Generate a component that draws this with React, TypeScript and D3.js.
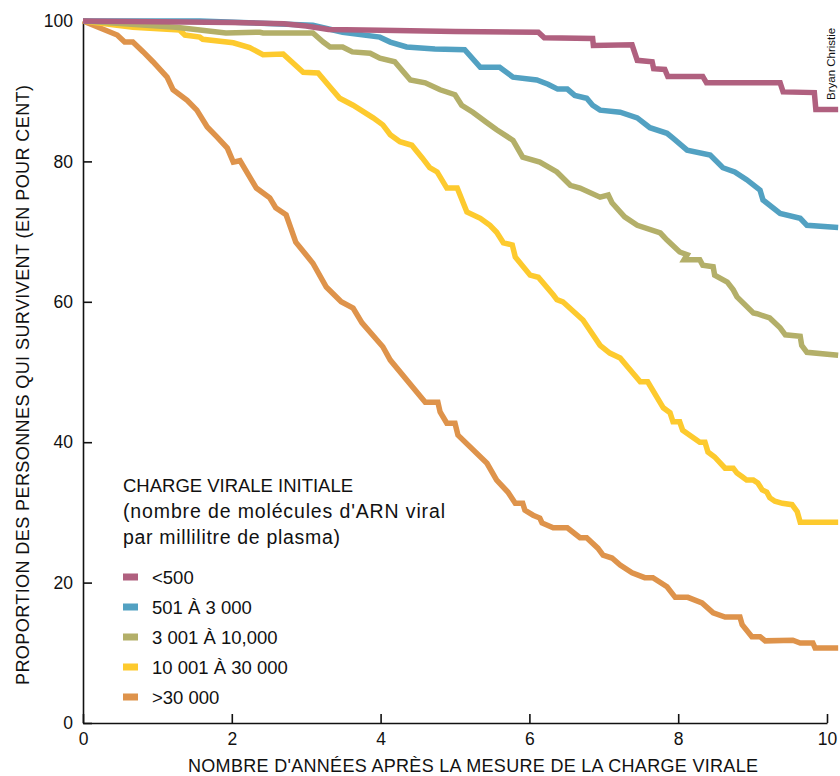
import { useEffect, useRef } from 'react';
import * as d3 from 'd3';

// survival curves by initial viral load (years, % surviving)
const seriesLabels = ['<500', '501 À 3 000', '3 001 À 10,000', '10 001 À 30 000', '>30 000'];
const seriesColors = ['#b0607f', '#52a1c2', '#b3af69', '#fdca2e', '#de934b'];

const xTicks = [0, 2, 4, 6, 8, 10];
const yTicks = [0, 20, 40, 60, 80, 100];

const under500: [number, number][] = [
  [0, 100], [1, 99.9], [2, 99.8], [2.7, 99.6], [3.0, 99.3], [3.3, 98.8], [4, 98.7], [5, 98.5],
  [6.12, 98.4], [6.2, 97.6], [6.85, 97.5], [6.86, 96.5], [7.38, 96.6], [7.45, 94.4], [7.65, 94.2],
  [7.67, 93.2], [7.82, 93.1], [7.86, 92.1], [8.33, 92.1], [8.38, 91.2], [9.37, 91.2], [9.41, 89.9],
  [9.83, 89.8], [9.85, 87.4], [10.15, 87.4],
];

const load501to3000: [number, number][] = [
  [0, 100], [1.57, 100], [3.09, 99.4], [3.49, 98.4], [3.99, 97.7], [4.13, 97.0], [4.35, 96.3],
  [4.73, 96.0], [5.13, 95.9], [5.34, 93.4], [5.6, 93.4], [5.78, 92.0], [6.1, 91.6], [6.25, 91.0],
  [6.38, 90.3], [6.51, 90.3], [6.61, 89.4], [6.77, 89.0], [6.85, 88.0], [6.95, 87.3], [7.22, 87.0],
  [7.45, 86.2], [7.62, 84.8], [7.85, 84.0], [7.93, 83.3], [8.12, 81.6], [8.43, 80.9], [8.6, 79.1],
  [8.76, 78.5], [8.92, 77.4], [9.1, 75.9], [9.14, 74.5], [9.37, 72.6], [9.64, 71.9], [9.73, 70.9],
  [10.15, 70.6],
];

const load3001to10000: [number, number][] = [
  [0, 100], [1.25, 99.1], [1.92, 98.3], [2.38, 98.4], [2.42, 98.3], [3.09, 98.3], [3.23, 97.0],
  [3.32, 96.3], [3.49, 96.3], [3.62, 95.6], [3.86, 95.4], [3.99, 94.7], [4.19, 94.2], [4.4, 91.6],
  [4.6, 91.2], [4.8, 90.2], [5.0, 89.5], [5.09, 88.0], [5.24, 87.0], [5.43, 85.5], [5.56, 84.5],
  [5.78, 83.0], [5.91, 80.6], [6.14, 79.9], [6.37, 78.5], [6.55, 76.6], [6.68, 76.2], [6.95, 74.9],
  [7.06, 75.2], [7.11, 74.1], [7.28, 72.1], [7.45, 70.9], [7.76, 69.8], [7.85, 68.8], [8.02, 67.1],
  [8.12, 66.7], [8.08, 66.0], [8.29, 66.0], [8.33, 65.2], [8.47, 65.0], [8.49, 63.8], [8.66, 62.8],
  [8.74, 61.7], [8.79, 60.7], [9.01, 58.4], [9.06, 58.3], [9.23, 57.7], [9.37, 56.3], [9.44, 55.3],
  [9.64, 55.1], [9.66, 53.8], [9.73, 52.8], [10.15, 52.4],
];

const load10001to30000: [number, number][] = [
  [0, 100], [0.67, 99.1], [1.3, 98.7], [1.37, 98.0], [1.57, 97.7], [1.61, 97.4], [2.02, 96.9],
  [2.24, 96.2], [2.42, 95.2], [2.69, 95.3], [2.96, 92.7], [3.16, 92.6], [3.32, 90.6], [3.45, 89.0],
  [3.63, 88.0], [3.9, 86.2], [4.03, 85.2], [4.13, 83.8], [4.26, 82.8], [4.42, 82.3], [4.56, 80.5],
  [4.66, 79.1], [4.76, 78.5], [4.89, 76.2], [5.03, 76.2], [5.16, 72.8], [5.34, 71.9], [5.47, 70.9],
  [5.56, 69.9], [5.65, 68.4], [5.77, 68.1], [5.81, 66.4], [6.01, 63.8], [6.12, 63.5], [6.32, 61.0],
  [6.37, 60.3], [6.45, 60.0], [6.72, 57.4], [6.95, 53.8], [7.08, 52.7], [7.22, 52.0], [7.33, 50.6],
  [7.49, 48.6], [7.59, 48.6], [7.8, 44.9], [7.89, 44.2], [7.93, 42.9], [8.02, 42.9], [8.06, 41.7],
  [8.29, 40.0], [8.36, 40.0], [8.4, 38.6], [8.49, 37.9], [8.63, 36.3], [8.74, 36.3], [8.79, 35.6],
  [8.87, 35.0], [8.92, 34.6], [9.01, 34.6], [9.07, 34.2], [9.13, 33.2], [9.19, 32.9], [9.23, 32.1],
  [9.3, 31.6], [9.4, 31.3], [9.53, 31.1], [9.6, 30.1], [9.64, 28.6], [10.15, 28.6],
];

const over30000: [number, number][] = [
  [0, 100], [0.23, 99.0], [0.46, 98.0], [0.56, 97.0], [0.67, 97.0], [0.81, 95.6], [0.94, 94.2],
  [1.13, 92.0], [1.21, 90.2], [1.4, 88.7], [1.53, 87.3], [1.67, 84.9], [1.8, 83.5], [1.94, 81.9],
  [2.02, 79.9], [2.11, 80.1], [2.33, 76.2], [2.51, 74.8], [2.59, 73.4], [2.73, 72.4], [2.86, 68.5],
  [3.09, 65.5], [3.27, 62.1], [3.47, 60.0], [3.63, 59.1], [3.75, 57.0], [4.03, 53.6], [4.13, 51.7],
  [4.6, 45.7], [4.77, 45.7], [4.8, 44.3], [4.89, 42.7], [5.0, 42.7], [5.04, 41.0], [5.43, 37.0],
  [5.56, 34.6], [5.71, 32.9], [5.81, 31.3], [5.91, 31.3], [5.94, 30.3], [6.05, 29.6], [6.14, 29.2],
  [6.17, 28.5], [6.32, 27.8], [6.51, 27.8], [6.68, 26.4], [6.77, 26.4], [6.92, 24.9], [6.99, 23.9],
  [7.11, 23.5], [7.22, 22.5], [7.38, 21.4], [7.55, 20.7], [7.66, 20.7], [7.85, 19.4], [7.96, 17.9],
  [8.13, 17.9], [8.32, 17.1], [8.47, 15.7], [8.63, 15.1], [8.83, 15.1], [8.86, 14.0], [8.99, 12.3],
  [9.1, 12.3], [9.17, 11.7], [9.54, 11.8], [9.64, 11.4], [9.81, 11.4], [9.84, 10.7], [10.15, 10.7],
];

const allSeries = [under500, load501to3000, load3001to10000, load10001to30000, over30000];

const FONT = '"Liberation Sans", Arial, Helvetica, sans-serif';

function SurvivalChart() {
  const svgRef = useRef<SVGSVGElement>(null);

  useEffect(() => {
    const width = 840;
    const height = 776;
    const svg = d3.select(svgRef.current).attr('width', width).attr('height', height);
    svg.selectAll('*').remove();

    const x = d3.scaleLinear().domain([0, 10]).range([83, 827]);
    const y = d3.scaleLinear().domain([0, 100]).range([723, 21]);

    // axes, ticks pointing inward
    const yAxis = svg.append('g')
      .attr('transform', `translate(${x(0)},0)`)
      .call(d3.axisLeft(y).tickValues(yTicks).tickSize(-9).tickSizeOuter(0).tickPadding(10));
    const xAxis = svg.append('g')
      .attr('transform', `translate(0,${y(0)})`)
      .call(d3.axisBottom(x).tickValues(xTicks).tickSize(-9).tickSizeOuter(0).tickPadding(10));

    [yAxis, xAxis].forEach(g => {
      g.attr('font-family', FONT).attr('font-size', 17.5);
      g.selectAll('path, line').attr('stroke', '#111').attr('stroke-width', 1.6);
      g.selectAll('text').attr('fill', '#111');
    });

    // curves, top series drawn last
    const line = d3.line<[number, number]>().x(d => x(d[0])).y(d => y(d[1]));
    for (let i = allSeries.length - 1; i >= 0; i--) {
      svg.append('path')
        .datum(allSeries[i])
        .attr('d', line)
        .attr('fill', 'none')
        .attr('stroke', seriesColors[i])
        .attr('stroke-width', 5.5)
        .attr('stroke-linejoin', 'miter');
    }

    // axis titles
    svg.append('text')
      .attr('x', 473).attr('y', 772)
      .attr('text-anchor', 'middle')
      .attr('textLength', 570)
      .attr('font-family', FONT).attr('font-size', 18)
      .attr('fill', '#111')
      .text("NOMBRE D'ANNÉES APRÈS LA MESURE DE LA CHARGE VIRALE");

    svg.append('text')
      .attr('transform', 'translate(29,385) rotate(-90)')
      .attr('text-anchor', 'middle')
      .attr('textLength', 600)
      .attr('font-family', FONT).attr('font-size', 18)
      .attr('fill', '#111')
      .text('PROPORTION DES PERSONNES QUI SURVIVENT (EN POUR CENT)');

    svg.append('text')
      .attr('transform', 'translate(835,100) rotate(-90)')
      .attr('font-family', FONT).attr('font-size', 11.5)
      .attr('fill', '#111')
      .text('Bryan Christie');

    // legend
    const legend = svg.append('g').attr('font-family', FONT).attr('font-size', 18.5).attr('fill', '#111');
    legend.append('text').attr('x', 123).attr('y', 492).attr('textLength', 230).text('CHARGE VIRALE INITIALE');
    legend.append('text').attr('x', 123).attr('y', 518).attr('font-size', 19.5)
      .attr('textLength', 322).text("(nombre de molécules d'ARN viral");
    legend.append('text').attr('x', 123).attr('y', 544).attr('font-size', 19.5)
      .attr('textLength', 217).text('par millilitre de plasma)');

    const items = legend.selectAll('g.item')
      .data(seriesLabels)
      .enter()
      .append('g')
      .attr('class', 'item')
      .attr('transform', (d, i) => `translate(123,${577 + i * 30})`);
    items.append('rect')
      .attr('x', 0).attr('y', -3.5)
      .attr('width', 15).attr('height', 7)
      .attr('fill', (d, i) => seriesColors[i]);
    items.append('text')
      .attr('x', 29).attr('y', 6.5)
      .text(d => d);
  }, []);

  return <svg ref={svgRef} style={{ position: 'absolute', left: 0, top: 0 }}></svg>;
}

export default function App() {
  return <SurvivalChart />;
}
